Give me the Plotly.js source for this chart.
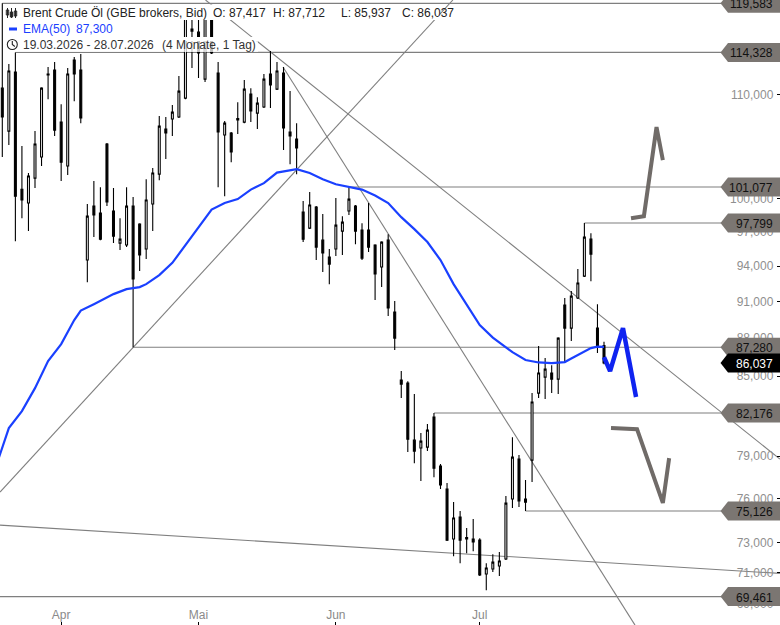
<!DOCTYPE html>
<html><head><meta charset="utf-8">
<script src="https://cdn.plot.ly/plotly-3.0.1.min.js"></script>
<style>html,body{margin:0;padding:0;background:#fff}#c{width:780px;height:625px}</style></head>
<body><div id="c"></div>
<script>
const dates=['03-19','03-20','03-23','03-24','03-25','03-26','03-27','03-30','03-31',
'04-01','04-02','04-06','04-07','04-08','04-09','04-10','04-13','04-14','04-15','04-16','04-17','04-20','04-21','04-22','04-23','04-24','04-27','04-28','04-29','04-30',
'05-01','05-04','05-05','05-06','05-07','05-08','05-11','05-12','05-13','05-14','05-15','05-18','05-19','05-20','05-21','05-22','05-25','05-26','05-27','05-28','05-29',
'06-01','06-02','06-03','06-04','06-05','06-08','06-09','06-10','06-11','06-12','06-15','06-16','06-17','06-18','06-19','06-22','06-23','06-24','06-25','06-26','06-29','06-30',
'07-01','07-02','07-03','07-06','07-07','07-08','07-09','07-10','07-13','07-14','07-15','07-16','07-17','07-20','07-21','07-22','07-23','07-24','07-27','07-28'];
const open=[110.65,106.38,112.29,100.87,99.60,101.90,103.88,112.09,112.50,107.26,
103.03,113.53,112.50,94.53,99.32,98.69,105.13,98.87,96.01,95.84,
99.32,97.69,95.49,99.51,102.27,106.58,107.56,107.76,109.64,116.80,
116.47,111.57,118.43,112.19,106.00,106.19,107.60,107.26,110.05,108.15,
108.75,112.09,110.55,112.19,106.29,105.61,98.78,97.34,99.24,96.27,
94.79,95.49,97.07,98.87,99.32,97.16,97.16,95.84,93.93,96.27,
90.13,84.69,84.46,80.16,79.58,79.65,81.87,78.28,76.65,73.22,
74.71,73.32,73.22,73.15,70.91,71.24,71.43,71.89,75.95,78.78,
75.95,78.71,83.69,84.92,85.24,84.77,90.71,88.82,91.30,93.15,
96.36,88.82,87.417];
const close=[107.76,112.40,100.23,99.87,102.09,105.13,110.65,111.99,106.48,103.40,
112.09,112.09,107.66,98.41,98.51,96.36,99.69,96.63,96.36,99.32,
92.90,94.97,99.87,102.37,106.87,106.19,108.25,110.35,118.64,116.58,
114.26,118.43,114.26,106.29,107.16,104.36,107.46,110.55,108.35,109.14,
111.57,110.96,112.40,106.68,105.90,104.74,96.36,99.42,95.66,95.14,
94.18,97.60,97.87,99.96,97.07,94.70,95.66,93.33,96.10,90.47,
88.01,84.38,80.23,79.36,80.09,80.90,78.13,76.93,73.15,74.64,
73.15,73.22,73.02,70.85,71.30,71.69,71.76,75.67,78.92,75.81,
75.74,83.01,85.24,85.55,84.77,88.01,88.82,91.46,92.56,96.54,
95.05,87.37,86.037];
const high=[119.583,113.12,114.328,104.93,102.37,106.38,110.75,112.81,113.32,109.04,
112.71,113.84,114.16,99.51,101.62,101.06,105.23,100.97,98.23,101.06,
100.14,97.78,101.80,102.84,107.86,107.76,108.95,111.88,119.07,118.86,
118.64,118.86,118.86,113.32,107.36,106.29,109.24,111.47,110.65,109.74,
112.09,114.47,113.32,112.81,110.35,107.16,99.78,100.60,99.32,98.60,
95.49,100.05,98.41,101.077,99.42,97.78,99.60,95.92,96.18,96.80,
91.05,85.39,84.61,83.62,80.68,81.35,82.176,78.42,77.07,75.74,
75.13,73.96,74.57,73.28,71.62,72.21,72.35,76.16,80.38,79.07,
77.28,83.69,87.37,86.42,85.86,88.09,91.30,91.89,93.76,97.799,
96.89,90.79,87.712];
const low=[103.88,105.03,96.18,98.23,97.07,100.97,103.03,109.54,105.90,101.62,
102.18,109.34,107.16,92.64,96.54,96.27,99.32,96.01,95.40,95.66,
87.28,93.58,94.62,97.07,101.71,103.69,105.90,107.66,109.54,112.71,
111.67,111.27,114.16,101.06,100.23,103.40,106.09,107.16,107.26,106.58,
108.65,108.65,110.45,104.55,103.21,102.27,96.10,97.25,94.53,93.50,
92.47,94.88,94.97,98.51,95.92,94.53,95.23,91.13,92.22,89.81,
87.05,83.31,79.29,78.49,77.21,79.36,77.49,76.65,73.08,72.08,
71.62,72.28,72.41,70.78,69.87,71.04,70.78,71.82,75.33,75.40,
75.13,77.14,83.31,83.24,83.69,83.62,86.02,87.77,91.21,93.07,
92.72,86.81,85.937];
const emaSession=[-1,0,1,3,5,7,9,11,12,14,17,19,21,22,24,26,28,31,32,34,36,38,40,42,44,45,47,49,51,53,55,57,59,61,63,65,67,69,71,73,75,76,78,80,82,84,86,87,88,89,90,91,92];
const emaValue=[78.21,79.58,81.05,82.32,84.07,86.18,87.53,89.48,90.26,90.79,91.63,92.05,92.22,92.47,93.24,94.29,95.84,98.23,99.0,99.6,99.96,100.83,101.43,102.41,102.65,102.74,102.37,101.80,101.33,101.10,100.83,100.28,99.60,98.32,97.25,96.10,94.53,92.47,90.71,89.07,88.05,87.68,86.89,86.26,86.07,86.02,86.10,86.38,86.65,86.97,87.21,87.33,87.30];
const levels=[119.583,114.328,101.077,97.799,87.280,82.176,75.126,69.461];
const levelLabels=['119,583','114,328','101,077','97,799','87,280','82,176','75,126','69,461'];
const levelStart=[0,2,53,89,20,66,80,-0.35];
const lastPrice=86.037, lastLabel='86,037';
const trendSession=[[-0.35,68.9],[31.07,118.9],[42.92,96.74],[-0.35,118.9]];
const trendPrice=[[76.44,119.95],[119.95,78.78],[112.81,67.67],[74.16,70.95]];
const blueSession=[92,92.93,94.9,96.9], bluePrice=[86.5,85.39,88.82,83.39];
const grayUpSession=[96.13,98.1,100.03,101], grayUpPrice=[98.23,98.41,106.77,103.59];
const grayDownSession=[93.07,97.05,101,101.96], grayDownPrice=[81.05,80.97,75.68,78.85];
const yTickVals=[110,100,97,94,91,88,85,82,79,76,73,71,69];
const yTickText=['110,000','100,000','97,000','94,000','91,000','88,000','85,000','82,000','79,000','76,000','73,000','71,000','69,000'];
const monthDates=['04-01','05-01','06-01','07-01'], monthLabels=['Apr','Mai','Jun','Jul'];

const session=dates.map((d,i)=>i);
const GRAY='#7f7f7f', TAG='#7b7672', BLUE='#1a40ff', FONT='"Liberation Sans", Arial, sans-serif';
const W=780,H=625;
const fy=p=>1-p/H, fx=p=>p/W;
const shapes=[];
levels.forEach((v,i)=>shapes.push({type:'line',layer:'below',xref:'x',yref:'y',x0:levelStart[i],x1:110,y0:v,y1:v,line:{color:GRAY,width:1.1}}));
trendSession.forEach((s,i)=>shapes.push({type:'line',layer:'below',xref:'x',yref:'y',x0:s[0],x1:s[1],y0:trendPrice[i][0],y1:trendPrice[i][1],line:{color:GRAY,width:1.1}}));
const tagPath='M -59.5 0 L -52 9.5 L 0 9.5 L 0 -9.5 L -52 -9.5 Z';
levels.forEach(v=>shapes.push({type:'path',layer:'above',xref:'paper',yref:'y',xsizemode:'pixel',ysizemode:'pixel',xanchor:1,yanchor:v,path:tagPath,fillcolor:TAG,line:{width:0}}));
shapes.push({type:'path',layer:'above',xref:'paper',yref:'y',xsizemode:'pixel',ysizemode:'pixel',xanchor:1,yanchor:lastPrice,path:tagPath,fillcolor:'#000',line:{width:0}});
const band=(x0,x1,y0,y1,c)=>shapes.push({type:'rect',layer:'above',xref:'paper',yref:'paper',x0:fx(x0),x1:fx(x1),y0:fy(y1),y1:fy(y0),fillcolor:c,line:{width:0}});
band(4,440,4.5,20,'#fff');
band(4,118,20,37,'#fff');
band(4,258,37,41,'#fff');
band(4,258,41,52,'rgba(255,255,255,0.75)');
const icon=(x,y,path,fill,lw,col)=>shapes.push({type:'path',layer:'above',xref:'paper',yref:'paper',xsizemode:'pixel',ysizemode:'pixel',xanchor:fx(x),yanchor:fy(y),path,fillcolor:fill,line:{color:col,width:lw}});
icon(7.5,13,'M 0 5 L 0 -5 M -1.2 3 L 1.2 3 L 1.2 -2 L -1.2 -2 Z','#fff',1,'#222');
icon(11.5,13,'M 0 5 L 0 -5 M -1.2 1 L 1.2 1 L 1.2 -4 L -1.2 -4 Z','#222',1,'#222');
icon(15.5,13,'M 0 5 L 0 -5 M -1.2 2 L 1.2 2 L 1.2 -3 L -1.2 -3 Z','#fff',1,'#222');
icon(13,29,'M -4 1.5 L 4 1.5 L 4 -1.5 L -4 -1.5 Z',BLUE,0,BLUE);
shapes.push({type:'circle',layer:'above',xref:'paper',yref:'paper',xsizemode:'pixel',ysizemode:'pixel',xanchor:fx(12.3),yanchor:fy(44.5),x0:-5,x1:5,y0:-5,y1:5,fillcolor:'rgba(0,0,0,0)',line:{color:'#222',width:1.1}});
icon(12.3,44.5,'M 0 3.5 L 0 0 L 2.5 -2','rgba(0,0,0,0)',1.1,'#222');

const anns=[];
const dark='#222';
const txt=(x,y,t,c)=>anns.push({xref:'paper',yref:'paper',x:fx(x-2),y:fy(y),xanchor:'left',yanchor:'middle',text:t,showarrow:false,font:{family:FONT,size:12,color:c||dark}});
txt(23,13,'Brent Crude Öl (GBE brokers, Bid)');
txt(213,13,'O: 87,417');txt(273,13,'H: 87,712');txt(341,13,'L: 85,937');txt(402,13,'C: 86,037');
txt(23,29,'EMA(50)',BLUE);txt(76,29,'87,300',BLUE);
txt(23,45,'19.03.2026 - 28.07.2026','#333');txt(162,45,'(4 Monate, 1 Tag)','#333');
levels.forEach((v,i)=>anns.push({xref:'paper',yref:'y',x:fx(775),y:Math.log10(v),yshift:-1,xanchor:'right',yanchor:'middle',text:levelLabels[i],showarrow:false,font:{family:FONT,size:12,color:'#111'}}));
anns.push({xref:'paper',yref:'y',x:fx(775),y:Math.log10(lastPrice),yshift:-1,xanchor:'right',yanchor:'middle',text:lastLabel,showarrow:false,font:{family:FONT,size:12,color:'#fff'}});

const traces=[
 {type:'candlestick',x:session,open,high,low,close,whiskerwidth:0,showlegend:false,hoverinfo:'skip',
  increasing:{line:{color:'#000',width:1.1},fillcolor:'#fff'},decreasing:{line:{color:'#000',width:1.1},fillcolor:'#000'}},
 {type:'scatter',mode:'lines',x:emaSession,y:emaValue,line:{color:BLUE,width:2.2},showlegend:false,hoverinfo:'skip'},
 {type:'scatter',mode:'lines',x:blueSession,y:bluePrice,line:{color:'#0f23f0',width:4.5},showlegend:false,hoverinfo:'skip'},
 {type:'scatter',mode:'lines',x:grayUpSession,y:grayUpPrice,line:{color:'#706b68',width:4},showlegend:false,hoverinfo:'skip'},
 {type:'scatter',mode:'lines',x:grayDownSession,y:grayDownPrice,line:{color:'#706b68',width:4},showlegend:false,hoverinfo:'skip'}
];
const layout={width:W,height:H,margin:{l:0,r:0,t:0,b:0,pad:0},paper_bgcolor:'#fff',plot_bgcolor:'#fff',showlegend:false,boxgap:0.58,
 font:{family:FONT,size:12},
 xaxis:{type:'linear',range:[-0.352,118.91],rangeslider:{visible:false},showgrid:false,zeroline:false,showline:false,
  tickmode:'array',tickvals:monthDates.map(d=>dates.indexOf(d)),ticktext:monthLabels,ticks:'inside',ticklen:3,tickcolor:'#000',tickwidth:1,
  ticklabelposition:'inside',tickfont:{family:FONT,size:12,color:'#8a8a8a'}},
 yaxis:{type:'log',side:'right',range:[1.83044,2.0790],showgrid:false,zeroline:false,showline:false,
  tickmode:'array',tickvals:yTickVals,ticktext:yTickText,ticks:'inside',ticklen:3,tickcolor:'#000',tickwidth:1,ticklabelstandoff:3,
  ticklabelposition:'inside',tickfont:{family:FONT,size:12,color:'#8f8f8f'}},
 shapes,annotations:anns};
Plotly.newPlot('c',traces,layout,{displayModeBar:false,staticPlot:true});
</script></body></html>
